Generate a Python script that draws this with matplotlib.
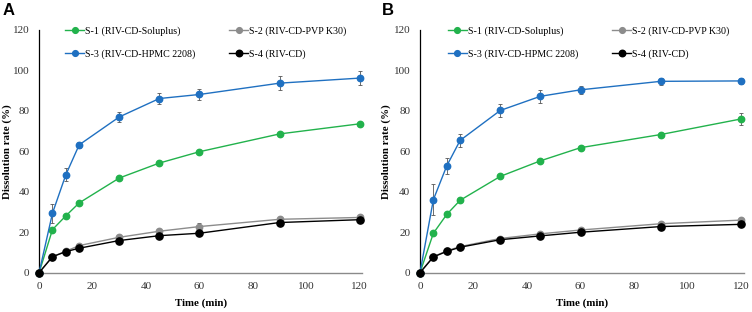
import matplotlib.pyplot as plt

time_min = [0, 5, 10, 15, 30, 45, 60, 90, 120]
labels = ['S-1 (RIV-CD-Soluplus)', 'S-2 (RIV-CD-PVP K30)',
          'S-3 (RIV-CD-HPMC 2208)', 'S-4 (RIV-CD)']
colors = ['#22b24c', '#8c8c8c', '#1f70c1', '#000000']

# Panel A
a_s1 = [0, 21.3, 28.1, 34.5, 46.8, 54.2, 59.8, 68.6, 73.6]
a_s2 = [0, 7.9, 10.6, 13.4, 17.5, 20.5, 22.8, 26.4, 27.3]
a_s3 = [0, 29.4, 48.4, 63.2, 77.0, 86.1, 88.1, 93.7, 96.2]
a_s4 = [0, 7.9, 10.4, 12.1, 15.9, 18.3, 19.5, 24.8, 26.2]
a_e1 = [0, 0.5, 0.5, 0.5, 0.6, 0.6, 0.6, 0.7, 0.8]
a_e2 = [0, 0.5, 0.6, 1.0, 1.0, 1.0, 1.6, 0.8, 0.8]
a_e3 = [0, 4.8, 3.3, 1.5, 2.3, 2.5, 2.5, 3.5, 3.3]
a_e4 = [0, 0.5, 0.5, 0.6, 0.6, 0.6, 0.6, 0.7, 0.7]

# Panel B
b_s1 = [0, 19.5, 28.8, 35.8, 47.6, 55.3, 61.8, 68.3, 76.0]
b_s2 = [0, 7.9, 10.8, 12.9, 16.9, 19.2, 21.1, 24.2, 26.0]
b_s3 = [0, 36.1, 52.8, 65.4, 80.2, 87.2, 90.4, 94.6, 94.8]
b_s4 = [0, 7.8, 10.5, 12.6, 16.3, 18.2, 20.0, 22.8, 23.9]
b_e1 = [0, 0.5, 0.6, 0.6, 0.7, 0.7, 0.8, 0.8, 2.8]
b_e2 = [0, 0.5, 0.5, 0.6, 0.6, 0.6, 0.6, 0.7, 0.7]
b_e3 = [0, 7.5, 3.9, 3.4, 3.3, 3.1, 2.0, 1.7, 1.5]
b_e4 = [0, 0.5, 0.5, 0.5, 0.6, 0.6, 0.6, 0.6, 0.6]

plt.rcParams['font.family'] = ['Liberation Serif', 'DejaVu Serif']

fig = plt.figure(figsize=(7.52, 3.12), dpi=100)
ax_a = fig.add_axes([0.052, 0.126, 0.43, 0.778])
ax_b = fig.add_axes([0.5585, 0.126, 0.4305, 0.778])

panels = [
    (ax_a, 'A', [a_s1, a_s2, a_s3, a_s4], [a_e1, a_e2, a_e3, a_e4],
     -0.083, 0.065, 0.004),
    (ax_b, 'B', [b_s1, b_s2, b_s3, b_s4], [b_e1, b_e2, b_e3, b_e4],
     -0.09, 0.071, 0.508),
]

for ax, letter, series, errs, ylab_x, leg_x, let_x in panels:
    handles = []
    for i in range(4):
        ms = 5.2 if i == 3 else 4.6
        ax.errorbar(time_min, series[i], yerr=errs[i], fmt='none',
                    ecolor='#555555', elinewidth=0.6, capsize=1.6,
                    capthick=0.6, zorder=2)
        h, = ax.plot(time_min, series[i], color=colors[i], lw=1.0,
                     marker='o', ms=ms, mec=colors[i], label=labels[i],
                     zorder=3 + i * 0.1, clip_on=False)
        handles.append(h)
    ax.set_xlim(0, 121)
    ax.set_ylim(0, 120)
    ax.set_xticks(range(0, 121, 20))
    ax.set_yticks(range(0, 121, 20))
    ax.tick_params(length=0, labelsize=8, colors='#333333', pad=7)
    for s in ['top', 'right']:
        ax.spines[s].set_visible(False)
    ax.spines['left'].set_linewidth(0.9)
    ax.spines['bottom'].set_color('#8a8a8a')
    ax.spines['bottom'].set_linewidth(1.0)
    ax.set_xlabel('Time (min)', fontsize=7.8, fontweight='bold', labelpad=5)
    ax.set_ylabel('Dissolution rate (%)', fontsize=7.8, fontweight='bold')
    ax.yaxis.set_label_coords(ylab_x, 0.5)
    # legend fills by column: reorder so rows read S-1, S-2 / S-3, S-4
    order = [0, 2, 1, 3]
    ax.legend([handles[k] for k in order], [labels[k] for k in order],
              ncol=2, loc='upper left', bbox_to_anchor=(leg_x, 1.035),
              frameon=False, fontsize=7.2, borderpad=0, handlelength=1.9,
              handletextpad=0.1, columnspacing=3.4, labelspacing=1.3,
              markerscale=0.9)
    fig.text(let_x, 0.966, letter, fontsize=12, fontweight='bold',
             family='Liberation Sans', va='center')

plt.savefig('out.png', dpi=100)
